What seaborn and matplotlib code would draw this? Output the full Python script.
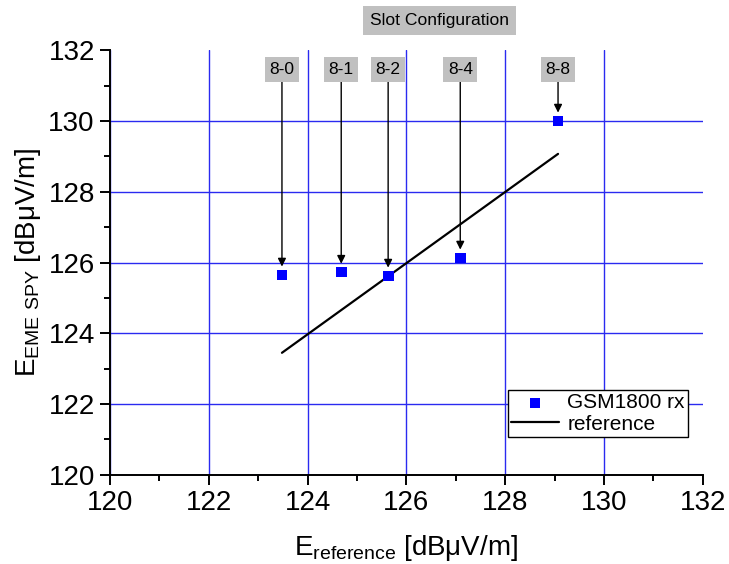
import numpy as np
import pandas as pd
import matplotlib
matplotlib.use("Agg")
import matplotlib.pyplot as plt
import seaborn as sns

# data
slot_labels = ["8-0", "8-1", "8-2", "8-4", "8-8"]
e_reference = [123.48, 124.68, 125.63, 127.09, 129.07]
e_eme_spy = [125.65, 125.73, 125.62, 126.13, 130.0]
ref_x = [123.48, 129.07]
ref_y = [123.45, 129.07]

sns.set_style("ticks")
plt.rcParams["font.family"] = ["Liberation Sans", "DejaVu Sans"]
plt.rcParams["mathtext.fontset"] = "custom"
plt.rcParams["mathtext.rm"] = "Liberation Sans"
for k in ["text.color", "axes.labelcolor", "xtick.color", "ytick.color"]:
    plt.rcParams[k] = "black"

df = pd.DataFrame({"x": e_reference, "y": e_eme_spy, "serie": "GSM1800 rx"})
df_ref = pd.DataFrame({"x": ref_x, "y": ref_y, "serie": "reference"})

fig = plt.figure(figsize=(7.29, 5.64), dpi=100)
ax = fig.add_axes([0.151, 0.158, 0.813, 0.753])

sns.lineplot(data=df_ref, x="x", y="y", color="black", lw=1.6, ax=ax,
             label="reference", zorder=3)
sns.scatterplot(data=df, x="x", y="y", marker="s", color="#0000ff", s=60,
                edgecolor="none", ax=ax, label="GSM1800 rx", zorder=4)

ax.set_xlim(120, 132)
ax.set_ylim(120, 132)
ax.set_xticks(np.arange(120, 133, 2))
ax.set_yticks(np.arange(120, 133, 2))
ax.set_xticks(np.arange(121, 132, 2), minor=True)
ax.set_yticks(np.arange(121, 132, 2), minor=True)
ax.tick_params(which="major", direction="out", length=7, width=1.4, labelsize=20, pad=4)
ax.tick_params(which="minor", direction="out", length=4.5, width=1.4)

ax.grid(True, which="major", color="#2a2af0", lw=1.0)
ax.xaxis.get_gridlines()[-1].set_visible(False)
ax.yaxis.get_gridlines()[-1].set_visible(False)
ax.set_axisbelow(True)

sns.despine(ax=ax)
for s in ["left", "bottom"]:
    ax.spines[s].set_linewidth(1.4)
    ax.spines[s].set_color("black")

ax.set_xlabel(r"$\mathregular{E_{reference}}$ [dB$\mathregular{\mu}$V/m]", fontsize=20, labelpad=12)
ax.set_ylabel(r"$\mathregular{E_{EME\ SPY}}$ [dB$\mathregular{\mu}$V/m]", fontsize=20, labelpad=4)

# slot configuration labels with arrows
for lab, xv, yv in zip(slot_labels, e_reference, e_eme_spy):
    ax.annotate(lab, xy=(xv, yv), xytext=(xv, 131.45), textcoords="data",
                ha="center", va="center", fontsize=12.5,
                bbox=dict(boxstyle="square,pad=0.27", fc="#c0c0c0", ec="none"),
                arrowprops=dict(arrowstyle="-|>", color="black", lw=1.0,
                                shrinkA=0, shrinkB=6, mutation_scale=12))

fig.text(439.5 / 729, 1 - 20 / 564, "Slot Configuration", ha="center", va="center",
         fontsize=12.6, bbox=dict(boxstyle="square,pad=0.4", fc="#c0c0c0", ec="none"))

handles, labels = ax.get_legend_handles_labels()
order = [labels.index("GSM1800 rx"), labels.index("reference")]
leg = ax.legend([handles[i] for i in order], [labels[i] for i in order],
                loc="lower right", bbox_to_anchor=(0.975, 0.09), fontsize=15,
                frameon=True, fancybox=False, framealpha=1, edgecolor="black",
                borderpad=0.15, handlelength=2.3, handletextpad=0.4, labelspacing=0.1,
                borderaxespad=0)
leg.get_frame().set_linewidth(1.0)

fig.savefig("out.png", dpi=100)
